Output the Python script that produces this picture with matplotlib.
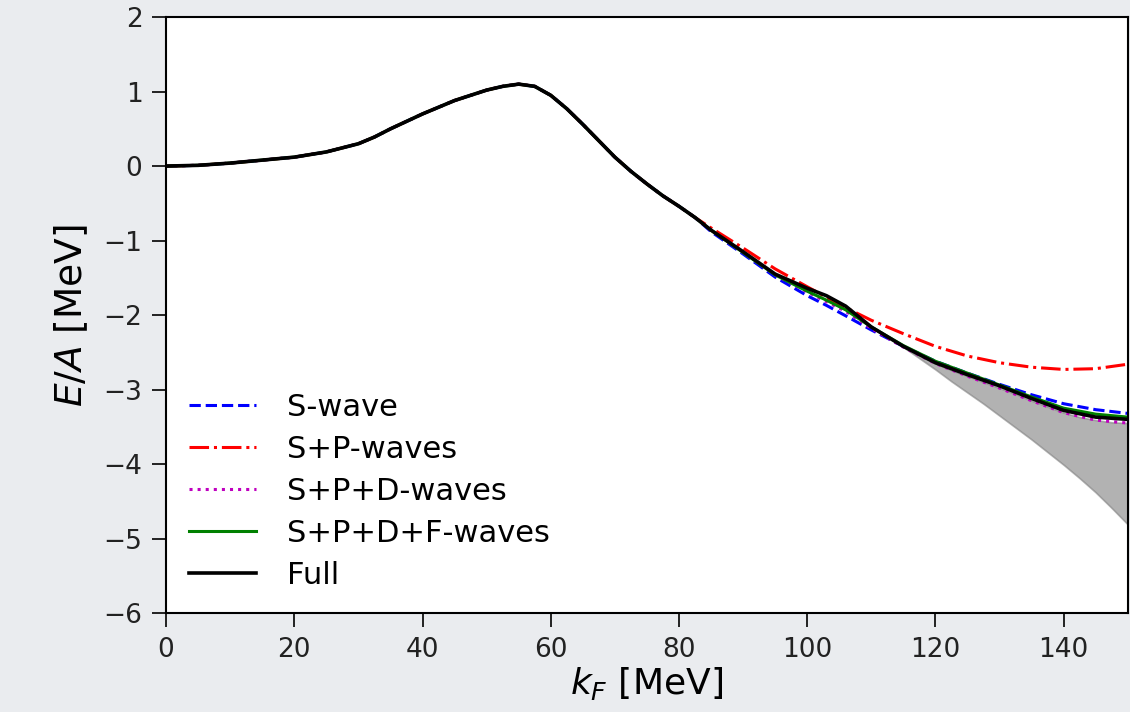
import matplotlib
matplotlib.use("Agg")
import matplotlib.pyplot as plt

# Fermi momentum grid [MeV]
kf = [0, 5, 10, 15, 20, 25, 30, 32.5, 35, 37.5, 40, 45, 50, 52.5, 55, 57.5, 60, 62.5,
      65, 67.5, 70, 72.5, 75, 77.5, 80, 82.5,
      85, 90, 95, 100, 103, 106, 110, 115, 120, 125, 130, 135, 140, 145, 150]

# low-kF part shared by all partial-wave curves (0..82.5 MeV)
common = [0.0, 0.01, 0.04, 0.08, 0.12, 0.19, 0.30, 0.39, 0.50, 0.60, 0.70, 0.88, 1.02,
          1.07, 1.10, 1.07, 0.95, 0.77, 0.56, 0.34, 0.12, -0.07, -0.24, -0.40, -0.54, -0.69]

s_wave = common + [-0.88, -1.18, -1.49, -1.74, -1.87, -2.01, -2.20, -2.42, -2.62,
                   -2.78, -2.93, -3.07, -3.19, -3.27, -3.32]
sp_waves = common + [-0.83, -1.10, -1.38, -1.62, -1.76, -1.90, -2.07, -2.25, -2.42,
                     -2.55, -2.64, -2.70, -2.73, -2.72, -2.66]
spd_waves = common + [-0.86, -1.16, -1.46, -1.69, -1.82, -1.95, -2.18, -2.43, -2.65,
                      -2.82, -2.98, -3.15, -3.31, -3.41, -3.45]
spdf_waves = common + [-0.86, -1.16, -1.46, -1.68, -1.80, -1.93, -2.16, -2.41, -2.62,
                       -2.78, -2.94, -3.10, -3.25, -3.33, -3.37]
full = common + [-0.86, -1.15, -1.45, -1.64, -1.74, -1.88, -2.16, -2.42, -2.64,
                 -2.80, -2.95, -3.12, -3.28, -3.37, -3.40]

# uncertainty band
band_kf = [115, 117.5, 120, 122.5, 125, 127.5, 130, 132.5, 135, 137.5, 140, 142.5,
           145, 147.5, 150]
band_hi = [-2.43, -2.54, -2.65, -2.74, -2.82, -2.90, -2.98, -3.06, -3.15, -3.23,
           -3.31, -3.37, -3.41, -3.44, -3.45]
band_lo = [-2.43, -2.58, -2.73, -2.89, -3.04, -3.19, -3.35, -3.51, -3.67, -3.84,
           -4.01, -4.19, -4.38, -4.59, -4.81]

xticks = [0, 20, 40, 60, 80, 100, 120, 140]
yticks = [2, 1, 0, -1, -2, -3, -4, -5, -6]


def plot():
    fig = plt.figure(figsize=(11.3, 7.12), dpi=100, facecolor='#eaecef')
    ax = fig.add_axes([0.147, 0.139, 0.851, 0.837])
    ax.set_facecolor('white')

    ax.fill_between(band_kf, band_lo, band_hi, color='gray', alpha=0.6, lw=1.2)
    ax.plot(kf, s_wave, 'b--', lw=2.2, label='S-wave')
    ax.plot(kf, sp_waves, 'r-.', lw=2.2, label='S+P-waves')
    ax.plot(kf, spd_waves, 'm:', lw=2.2, label='S+P+D-waves')
    ax.plot(kf, spdf_waves, 'g-', lw=2.2, label='S+P+D+F-waves')
    ax.plot(kf, full, 'k-', lw=2.6, label='Full')

    ax.set_xlim(0, 150)
    ax.set_ylim(-6, 2)
    ax.set_xticks(xticks)
    ax.set_yticks(yticks)
    ax.tick_params(labelsize=19, length=10, width=1.4, pad=7, colors='#222222')
    for sp in ax.spines.values():
        sp.set_linewidth(1.5)

    ax.set_xlabel(r'$k_F$ [MeV]', fontsize=26, labelpad=2)
    ax.set_ylabel(r'$E/A$ [MeV]', fontsize=27, labelpad=10)

    ax.legend(loc='lower left', frameon=False, fontsize=22, handlelength=2.2,
              handletextpad=1.0, labelspacing=0.43, borderaxespad=0.35)

    plt.savefig('out.png', dpi=100, facecolor=fig.get_facecolor())


if __name__ == "__main__":
    plot()
